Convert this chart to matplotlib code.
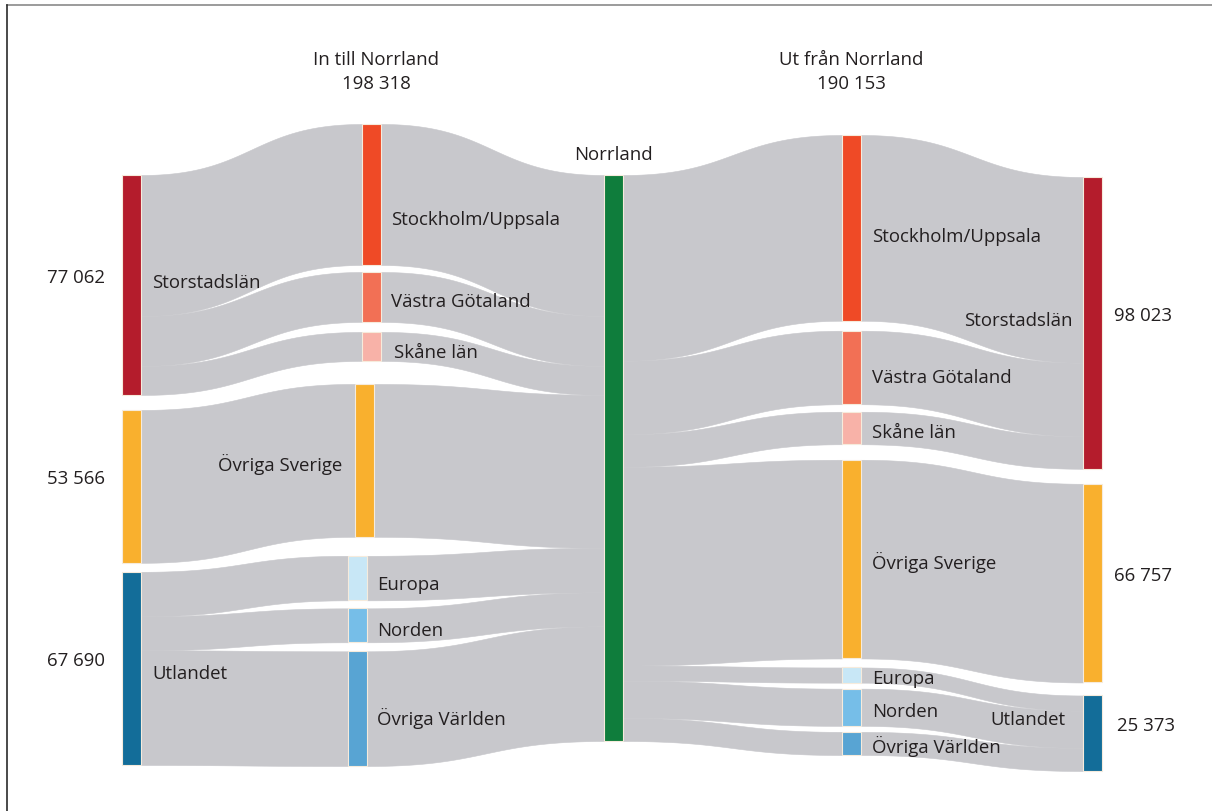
import numpy as np
import matplotlib
matplotlib.use('Agg')
import matplotlib.pyplot as plt
from matplotlib.patches import Rectangle

#----- data
in_total = 198318
out_total = 190153

groups = ['Storstadslän', 'Övriga Sverige', 'Utlandet']
in_groups = [77062, 53566, 67690]
out_groups = [98023, 66757, 25373]
group_labels = ['77 062', '53 566', '67 690']
out_group_labels = ['98 023', '66 757', '25 373']

regions = ['Stockholm/Uppsala', 'Västra Götaland', 'Skåne län', 'Övriga Sverige',
           'Europa', 'Norden', 'Övriga Världen']
region_group = [0, 0, 0, 1, 2, 2, 2]
in_regions = [49400, 17500, 10162, 53566, 15600, 11900, 40190]
out_regions = [62400, 24700, 10923, 66757, 5100, 12500, 7773]

#----- style
group_colors = ['#b41c2c', '#f9b02e', '#136d99']
region_colors = ['#ef4a26', '#f27055', '#f8b2a8', '#f9b02e', '#c8e7f6', '#76bee8', '#58a4d3']
norr_color = '#0f7d3c'
flow_color = '#c8c8cc'
edge_color = '#f6ebdc'
txt = '#231f20'
plt.rcParams['font.family'] = ['Open Sans', 'DejaVu Sans']
fs = 13.4

#----- layout (pixel-like units)
X0, X1, X2, X3, X4 = 122, 362, 604, 842, 1083
W = 19
dx1 = [0, 0, 0, -7, -14, -14, -14]
TOP, H = 176, 566
k_in = H / in_total
k_out = H / out_total

def stack(values, top, gaps, k):
    tops = []
    y = top
    for i, v in enumerate(values):
        tops.append(y)
        y += v * k
        if i < len(gaps):
            y += gaps[i]
    return tops

t0 = stack(in_groups, 176, [15, 9], k_in)
t1 = stack(in_regions, 125, [7, 10, 23, 19, 8, 9], k_in)
t3 = stack(out_regions, 136, [10, 7.5, 15.5, 9, 6, 6], k_out)
t4 = stack(out_groups, 178, [15, 13], k_out)

fig = plt.figure(figsize=(12.12, 8.12), dpi=100)
ax = fig.add_axes([0, 0, 1, 1])
ax.set_xlim(0, 1212)
ax.set_ylim(812, 0)
ax.axis('off')

def bez(a, b, c, d, t):
    return (1-t)**3*a + 3*(1-t)**2*t*b + 3*(1-t)*t**2*c + t**3*d

def flow(xa, ya, xb, yb, h):
    t = np.linspace(0, 1, 120)
    xm = (xa + xb) / 2.
    x = bez(xa, xm, xm, xb, t)
    y = bez(ya, ya, yb, yb, t)
    ax.fill_between(x, y, y + h, color=flow_color, lw=0.4, ec=flow_color)

# col0 -> col1
off = list(t0)
for i, v in enumerate(in_regions):
    g = region_group[i]
    h = v * k_in
    flow(X0 + W, off[g], X1 + dx1[i], t1[i], h)
    off[g] += h

# col1 -> Norrland
y = TOP
for i, v in enumerate(in_regions):
    h = v * k_in
    flow(X1 + dx1[i] + W, t1[i], X2, y, h)
    y += h

# Norrland -> col3
y = TOP
for i, v in enumerate(out_regions):
    h = v * k_out
    flow(X2 + W, y, X3, t3[i], h)
    y += h

# col3 -> col4
off = list(t4)
for i, v in enumerate(out_regions):
    g = region_group[i]
    h = v * k_out
    flow(X3 + W, t3[i], X4, off[g], h)
    off[g] += h

def node(x, y, h, c):
    ax.add_patch(Rectangle((x, y), W, h, fc=c, ec=edge_color, lw=0.8, zorder=3))

for i, v in enumerate(in_groups):
    node(X0, t0[i], v * k_in, group_colors[i])
for i, v in enumerate(in_regions):
    node(X1 + dx1[i], t1[i], v * k_in, region_colors[i])
node(X2, TOP, H, norr_color)
for i, v in enumerate(out_regions):
    node(X3, t3[i], v * k_out, region_colors[i])
for i, v in enumerate(out_groups):
    node(X4, t4[i], v * k_out, group_colors[i])

#----- texts
kw = dict(fontsize=fs, color=txt, va='center', zorder=5)
for i, v in enumerate(in_groups):
    ax.text(X0 - 17, t0[i] + v * k_in / 2 - 8, group_labels[i], ha='right', **kw)
ax.text(152, 283, groups[0], ha='left', **kw)
ax.text(218, 464, groups[1], ha='left', **kw)
ax.text(152, 674, groups[2], ha='left', **kw)

lab1_y = [220, 302, 353, None, 585, 631, 718]
for i, yy in enumerate(lab1_y):
    if yy is not None:
        ax.text(X1 + dx1[i] + W + 10 + (3 if i == 2 else 0), yy, regions[i], ha='left', **kw)

lab3_y = [237, 378, 433, 562, 679, 712, 746]
for i, yy in enumerate(lab3_y):
    ax.text(X3 + W + 11, yy, regions[i], ha='left', **kw)

ax.text(1073, 321, groups[0], ha='right', **kw)
ax.text(1065, 720, groups[2], ha='right', **kw)
for i, v in enumerate(out_group_labels):
    ax.text(X4 + W + 12 + (3 if i == 2 else 0), t4[i] + out_groups[i] * k_out / 2 - 8, v, ha='left', **kw)

ax.text(X2 + W / 2, 155, 'Norrland', ha='center', **kw)
ax.text(376, 72, 'In till Norrland\n%s' % '198 318', ha='center', linespacing=1.45, **kw)
ax.text(851, 72, 'Ut från Norrland\n%s' % '190 153', ha='center', linespacing=1.45, **kw)

# frame
ax.plot([7, 1212], [5.5, 5.5], color='#8a8a8a', lw=1.2, clip_on=False)
ax.plot([7, 7], [5.5, 812], color='#2a2a2a', lw=1.2, clip_on=False)

plt.savefig('out.png', dpi=100)
plt.close('all')
